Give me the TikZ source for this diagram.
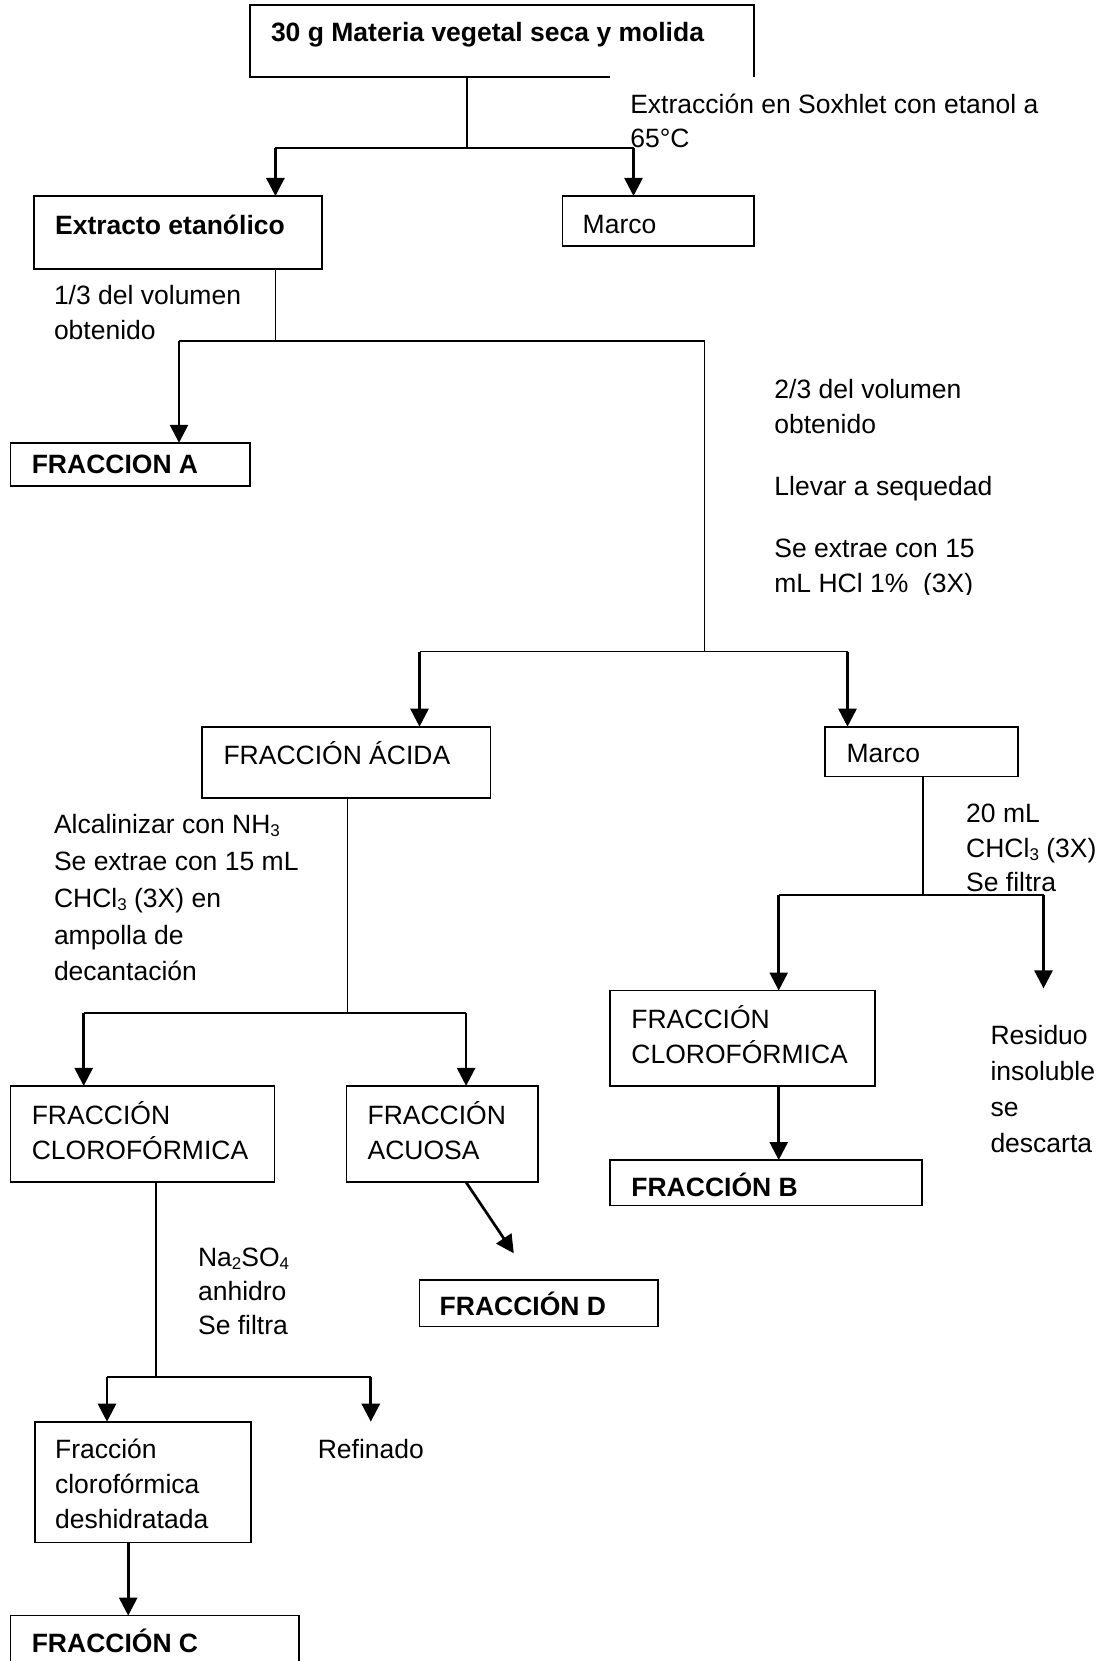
\documentclass[tikz,border=0pt]{standalone}
\usepackage{fontspec}
\setmainfont{Liberation Sans}
\usetikzlibrary{arrows.meta,calc}
\newcommand{\chemsub}[1]{\raisebox{-0.12em}{\fontsize{17}{17}\selectfont #1}}
\tikzset{
  box/.style={draw, line width=1.7pt, inner sep=0pt, outer sep=0pt, anchor=north west},
  hollowbox/.style={inner sep=0pt, outer sep=0pt, anchor=north west},
  conn/.style={line width=1.7pt},
  arr/.style={line width=2.7pt, -{Triangle[length=18pt,width=18pt]}},
  txt/.style={anchor=west, inner sep=0pt, outer sep=0pt, align=left, font=\fontsize{26.5}{35}\selectfont},
  btxt/.style={txt, font=\fontsize{26.5}{35}\selectfont\bfseries},
}
\begin{document}
\begin{tikzpicture}[x=1pt,y=-1pt]
\useasboundingbox (0,0) rectangle (1105,1661);
\fill[white] (0,0) rectangle (1105,1661);
\begin{scope}
\clip (0,0) rectangle (1105,1661);

% ---------- boxes ----------
\node[hollowbox, minimum width=504.3pt, minimum height=72pt] (top) at (250,5.3) {};
\draw[line width=1.7pt] ([xshift=360pt]top.south west) -- (top.south west) -- (top.north west) -- (top.north east) -- (top.south east);
\node[box, minimum width=288.1pt, minimum height=73.1pt] (ext) at (33.9,196) {};
\node[box, minimum width=191.8pt, minimum height=49.8pt] (marco1) at (562.5,196) {};
\node[box, minimum width=239.4pt, minimum height=43.5pt] (fa) at (10.6,442.8) {};
\node[box, minimum width=288.2pt, minimum height=71pt] (acida) at (202.3,726.7) {};
\node[box, minimum width=192.7pt, minimum height=49.8pt] (marco2) at (825.3,726.7) {};
\node[box, minimum width=264.9pt, minimum height=95.4pt] (clorR) at (610.2,990.5) {};
\node[box, minimum width=311.5pt, minimum height=45.6pt] (fb) at (610.2,1160) {};
\node[box, minimum width=263.8pt, minimum height=96.4pt] (clorL) at (10.6,1085.9) {};
\node[box, minimum width=191.8pt, minimum height=96.4pt] (acuosa) at (346.4,1085.9) {};
\node[box, minimum width=238.4pt, minimum height=46.6pt] (fd) at (419.5,1279.8) {};
\node[box, minimum width=216.1pt, minimum height=120.8pt] (desh) at (35,1421.7) {};
\node[box, minimum width=288.1pt, minimum height=90pt] (fc) at (10.6,1615.6) {};

% ---------- texts ----------
\node[btxt] (ttop) at (271,35) {30 g Materia vegetal seca y molida};
\node[txt, font=\fontsize{26.5}{34}\selectfont] (tsox) at (630.3,120.8) {Extracción en Soxhlet con etanol a\\65°C};
\node[btxt] (text) at (55.1,224.6) {Extracto etanólico};
\node[txt] (tmarco1) at (582.7,224.6) {Marco};
\node[txt] (t13) at (54,313) {1/3 del volumen\\obtenido};
\node[btxt] (tfa) at (31.8,464) {FRACCION A};
\begin{scope}
\clip (700,340) rectangle (1105,594);
\node[txt] (t23) at (774.4,489) {2/3 del volumen\\obtenido\\[27pt]Llevar a sequedad\\[27pt]Se extrae con 15\\mL HCl 1\%\ \ (3X)};
\end{scope}
\node[txt] (tacida) at (223.5,753.2) {FRACCIÓN ÁCIDA};
\node[txt] (tmarco2) at (846.5,753.2) {Marco};
\node[txt, font=\fontsize{26.5}{36.8}\selectfont] (talc) at (54,897.9) {Alcalinizar con NH\chemsub{3}\\Se extrae con 15 mL\\CHCl\chemsub{3} (3X) en\\ampolla de\\decantación};
\node[txt, font=\fontsize{26.5}{34.4}\selectfont] (t20) at (966.2,848) {20 mL\\CHCl\chemsub{3} (3X)\\Se filtra};
\node[txt] (tclorR) at (631.4,1035) {FRACCIÓN\\CLOROFÓRMICA};
\node[btxt] (tfb) at (631.4,1184.4) {FRACCIÓN B};
\node[txt, font=\fontsize{26.5}{36}\selectfont] (tres) at (990.5,1089) {Residuo\\insoluble\\se\\descarta};
\node[txt] (tclorL) at (31.8,1131) {FRACCIÓN\\CLOROFÓRMICA};
\node[txt] (tacuosa) at (367.6,1131) {FRACCIÓN\\ACUOSA};
\node[btxt] (tfd) at (439.7,1304.1) {FRACCIÓN D};
\node[txt, font=\fontsize{26.5}{34}\selectfont] (tna) at (198.1,1291.4) {Na\chemsub{2}SO\chemsub{4}\\anhidro\\Se filtra};
\node[txt] (tdesh) at (55.1,1484) {Fracción\\clorofórmica\\deshidratada};
\node[txt] (tref) at (317.8,1449.3) {Refinado};
\node[btxt] (tfc) at (31.8,1641) {FRACCIÓN C};

% ---------- junction coordinates ----------
\coordinate (j1) at (467.2,148.3);
\coordinate (b1l) at (275.4,148.3);
\coordinate (b1r) at (633.5,148.3);
\coordinate (j2) at (275.4,341.1);
\coordinate (b2l) at (179,341.1);
\coordinate (b2r) at (704.5,341.1);
\coordinate (j3) at (704.5,651.5);
\coordinate (b3l) at (419.5,651.5);
\coordinate (b3r) at (847.5,651.5);
\coordinate (j4) at (347.5,1012.8);
\coordinate (b4l) at (83.7,1012.8);
\coordinate (b4r) at (466.1,1012.8);
\coordinate (j5) at (922.7,895.2);
\coordinate (b5l) at (778.7,895.2);
\coordinate (b5r) at (1043.5,895.2);
\coordinate (r5) at (1043.5,988.4);
\coordinate (dtip) at (513.8,1253.3);
\coordinate (j6) at (155.7,1377.2);
\coordinate (b6l) at (107,1377.2);
\coordinate (b6r) at (370.8,1377.2);
\coordinate (r6) at (370.8,1421.7);
\coordinate (a9) at (128.2,1542.5);

% ---------- connectors ----------
\draw[conn] (top.south -| j1) -- (j1);
\draw[conn] (b1l) -- (b1r);
\draw[arr] (b1l) -- (b1l |- ext.north);
\draw[arr] (b1r) -- (b1r |- marco1.north);

\draw[conn] (ext.south -| j2) -- (j2);
\draw[conn] (b2l) -- (b2r);
\draw[arr] (b2l) -- (b2l |- fa.north);
\draw[conn] (b2r) -- (j3);

\draw[conn] (b3l) -- (b3r);
\draw[arr] (b3l) -- (b3l |- acida.north);
\draw[arr] (b3r) -- (b3r |- marco2.north);

\draw[conn] (acida.south -| j4) -- (j4);
\draw[conn] (b4l) -- (b4r);
\draw[arr] (b4l) -- (b4l |- clorL.north);
\draw[arr] (b4r) -- (b4r |- acuosa.north);

\draw[conn] (marco2.south -| j5) -- (j5);
\draw[conn] (b5l) -- (b5r);
\draw[arr] (b5l) -- (b5l |- clorR.north);
\draw[arr] (b5r) -- (r5);
\draw[arr] (clorR.south -| b5l) -- (b5l |- fb.north);

\draw[arr] (acuosa.south -| b4r) -- (dtip);

\draw[conn] (clorL.south -| j6) -- (j6);
\draw[conn] (b6l) -- (b6r);
\draw[arr] (b6l) -- (b6l |- desh.north);
\draw[arr] (b6r) -- (r6);

\draw[arr] (desh.south -| a9) -- (a9 |- fc.north);
\end{scope}
\end{tikzpicture}
\end{document}
